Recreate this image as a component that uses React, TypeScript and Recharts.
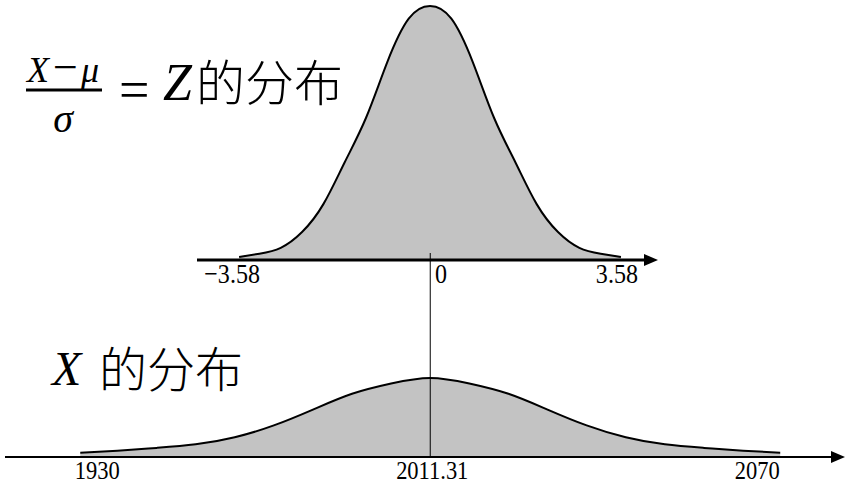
import { Area, AreaChart, ReferenceDot, ReferenceLine, XAxis, YAxis } from "recharts";

// standardized positions, shared by both curves
const zGrid = [-3.58, -3.2, -2.8, -2.4, -2, -1.6, -1.2, -0.8, -0.4, 0, 0.4, 0.8, 1.2, 1.6, 2, 2.4, 2.8, 3.2, 3.58];
// heights, relative to each peak
const zCurve = [0.012, 0.025, 0.048, 0.11, 0.22, 0.385, 0.56, 0.78, 0.95, 1, 0.95, 0.78, 0.56, 0.385, 0.22, 0.11, 0.048, 0.025, 0.012];
const xCurve = [0.055, 0.08, 0.115, 0.16, 0.25, 0.4, 0.6, 0.8, 0.93, 1, 0.93, 0.8, 0.6, 0.4, 0.25, 0.16, 0.115, 0.08, 0.055];

const tickValues = [-3.58, 0, 3.58];
const zTickLabels = ["−3.58", "0", "3.58"];
const xTickLabels = ["1930", "2011.31", "2070"];

const topData = zGrid.map((z, i) => ({ z, h: zCurve[i] }));
const bottomData = zGrid.map((z, i) => ({ z, h: xCurve[i] }));

const serif = "'Liberation Serif', 'DejaVu Serif', serif";
const cjk = "'Noto Sans CJK SC', sans-serif";

const TOP_DOMAIN: [number, number] = [-4.37, 4.05];
const BOTTOM_DOMAIN: [number, number] = [-4.35, 4.12];

function makeTick(labels: string[], shifts: number[], size: number, squeeze: number) {
  return (props: any) => {
    const { x, y, index } = props;
    return (
      <text
        transform={`translate(${x + shifts[index]},${y}) scale(${squeeze},1)`}
        dy="0.71em"
        textAnchor="middle"
        fontFamily={serif}
        fontSize={size}
        fill="#000"
      >
        {labels[index]}
      </text>
    );
  };
}

const arrow = (len: number, half: number) => (props: any) => {
  const { cx, cy } = props;
  return <polygon points={`${cx - 2},${cy - half} ${cx + len},${cy} ${cx - 2},${cy + half}`} fill="#000" />;
};

export default function App() {
  return (
    <div style={{ position: "absolute", left: 0, top: 0, width: 851, height: 485, background: "#fff" }}>
      <div style={{ position: "absolute", left: 0, top: 0 }}>
        <AreaChart width={851} height={300} data={topData} margin={{ top: 6, right: 205, bottom: 0, left: 197 }}>
          <XAxis
            dataKey="z"
            type="number"
            domain={TOP_DOMAIN}
            ticks={tickValues}
            tickLine={false}
            tickSize={3}
            tickMargin={0}
            height={40}
            axisLine={{ stroke: "#000", strokeWidth: 3 }}
            tick={makeTick(zTickLabels, [-7, 11, -4], 28, 0.86)}
            interval={0}
          />
          <YAxis hide domain={[0, 1]} />
          <Area
            dataKey="h"
            type="natural"
            stroke="#000"
            strokeWidth={2}
            fill="#c3c3c3"
            fillOpacity={1}
            isAnimationActive={false}
          />
          <ReferenceDot x={TOP_DOMAIN[1]} y={0} ifOverflow="visible" shape={arrow(12, 6)} />
        </AreaChart>
      </div>
      <div style={{ position: "absolute", left: 0, top: 0 }}>
        <AreaChart width={851} height={485} data={bottomData} margin={{ top: 253, right: 18, bottom: 0, left: 5 }}>
          <XAxis
            dataKey="z"
            type="number"
            domain={BOTTOM_DOMAIN}
            ticks={tickValues}
            tickLine={false}
            tickSize={4}
            tickMargin={0}
            height={28}
            axisLine={{ stroke: "#000", strokeWidth: 2 }}
            tick={makeTick(xTickLabels, [17, 2, -23], 25, 0.9)}
            interval={0}
          />
          <YAxis hide domain={[0, 2.58]} />
          <Area
            dataKey="h"
            type="natural"
            stroke="#000"
            strokeWidth={2}
            fill="#c3c3c3"
            fillOpacity={1}
            isAnimationActive={false}
          />
          <ReferenceLine x={0} stroke="#000" strokeWidth={1} />
          <ReferenceDot x={BOTTOM_DOMAIN[1]} y={0} ifOverflow="visible" shape={arrow(12, 6)} />
        </AreaChart>
      </div>
      <svg width={851} height={485} style={{ position: "absolute", left: 0, top: 0, pointerEvents: "none" }}>
        <text x={27} y={82} fontFamily={serif} fontSize={36} fontStyle="italic">
          X
        </text>
        <text x={53} y={82} fontFamily={serif} fontSize={44}>
          −
        </text>
        <text x={81} y={82} fontFamily={serif} fontSize={36} fontStyle="italic">
          μ
        </text>
        <line x1={26} x2={102} y1={90} y2={90} stroke="#000" strokeWidth={3} />
        <text x={63} y={132} textAnchor="middle" fontFamily={serif} fontSize={40} fontStyle="italic">
          σ
        </text>
        <text x={119} y={108} fontFamily={serif} fontSize={54}>
          =
        </text>
        <text x={163} y={100} fontFamily={serif} fontSize={52} fontStyle="italic">
          Z
        </text>
        <text x={196} y={101} fontFamily={cjk} fontSize={49} fontWeight={300}>
          的分布
        </text>
        <text x={52} y={385} fontFamily={serif} fontSize={48} fontStyle="italic">
          X
        </text>
        <text x={99} y={387} fontFamily={cjk} fontSize={48} fontWeight={300}>
          的分布
        </text>
      </svg>
    </div>
  );
}
